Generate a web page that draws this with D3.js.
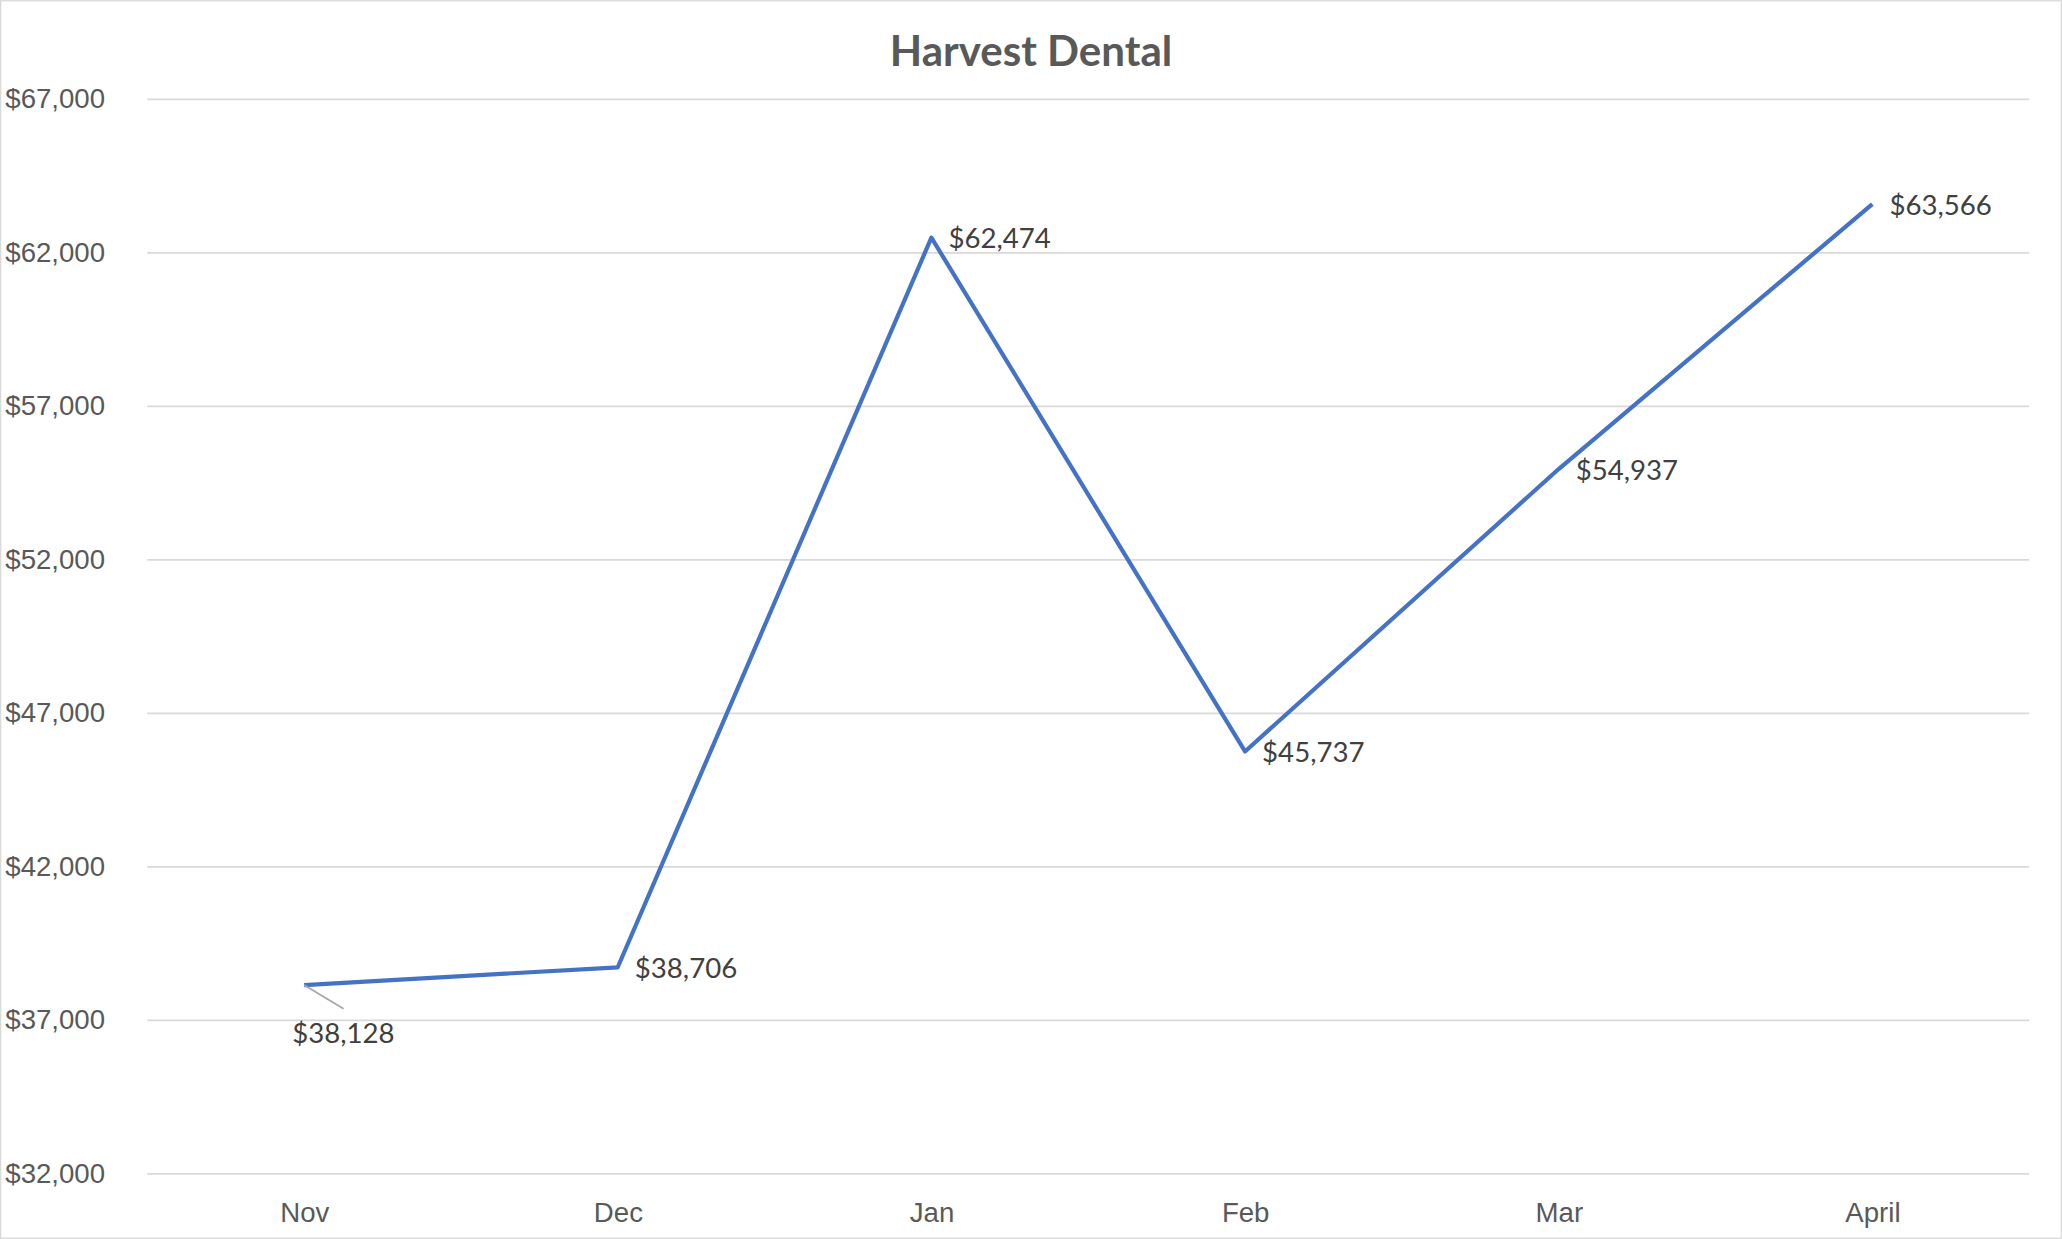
<!DOCTYPE html>
<html><head><meta charset="utf-8">
<script src="https://cdn.jsdelivr.net/npm/d3@7"></script>
<style>html,body{margin:0;padding:0;background:#fff;overflow:hidden}</style>
</head><body>
<script>
const categories = ["Nov","Dec","Jan","Feb","Mar","April"];
const values = [38128,38706,62474,45737,54937,63566];
const yTicks = [32000,37000,42000,47000,52000,57000,62000,67000];

const W=1568,H=942;
const svg=d3.select("body").append("svg").attr("width",2062).attr("height",1239)
  .attr("viewBox",`0 0 ${W} ${H}`).style("font-family","Lato, 'Open Sans', sans-serif");
svg.append("rect").attr("x",0.5).attr("y",0.5).attr("width",W-1).attr("height",H-1)
  .attr("fill","#fff").attr("stroke","#d9d9d9");
const x=d3.scalePoint().domain(categories).range([112,1543]).padding(0.5);
const y=d3.scaleLinear().domain([32000,67000]).range([892,75]);
const fmt=v=>"$"+d3.format(",")(v);

const ya=svg.append("g").attr("transform","translate(112,0)")
  .call(d3.axisLeft(y).tickValues(yTicks).tickSize(-1431).tickFormat(fmt).tickPadding(24));
ya.select(".domain").remove();
ya.selectAll("line").attr("stroke","#d9d9d9").attr("stroke-width",1.3);
ya.selectAll("text").attr("fill","#595959").style("font-size","21px").attr("text-anchor","start").attr("x",-108);

const xa=svg.append("g").attr("transform","translate(0,892)")
  .call(d3.axisBottom(x).tickSize(0).tickPadding(22));
xa.select(".domain").remove();
xa.selectAll("text").attr("fill","#595959").style("font-size","21px");

svg.append("text").attr("x",784).attr("y",50).attr("text-anchor","middle")
  .attr("fill","#595959").style("font-size","32px").style("font-weight","bold").text("Harvest Dental");

svg.append("path").datum(values).attr("fill","none").attr("stroke","#4472c4").attr("stroke-width",3.2)
  .attr("stroke-linejoin","round")
  .attr("d",d3.line().x((d,i)=>x(categories[i])).y(d=>y(d)));

// Nov leader line
svg.append("line").attr("x1",x("Nov")).attr("y1",y(values[0])).attr("x2",x("Nov")+30).attr("y2",y(values[0])+18)
  .attr("stroke","#a6a6a6").attr("stroke-width",1.3);
values.forEach((v,i)=>{
  const px=x(categories[i]),py=y(v);
  const t=svg.append("text").attr("fill","#404040").style("font-size","21px").text(fmt(v));
  if(i===0) t.attr("x",px-9).attr("y",py+44);
  else t.attr("x",px+13).attr("y",py+8);
});
</script>
</body></html>
